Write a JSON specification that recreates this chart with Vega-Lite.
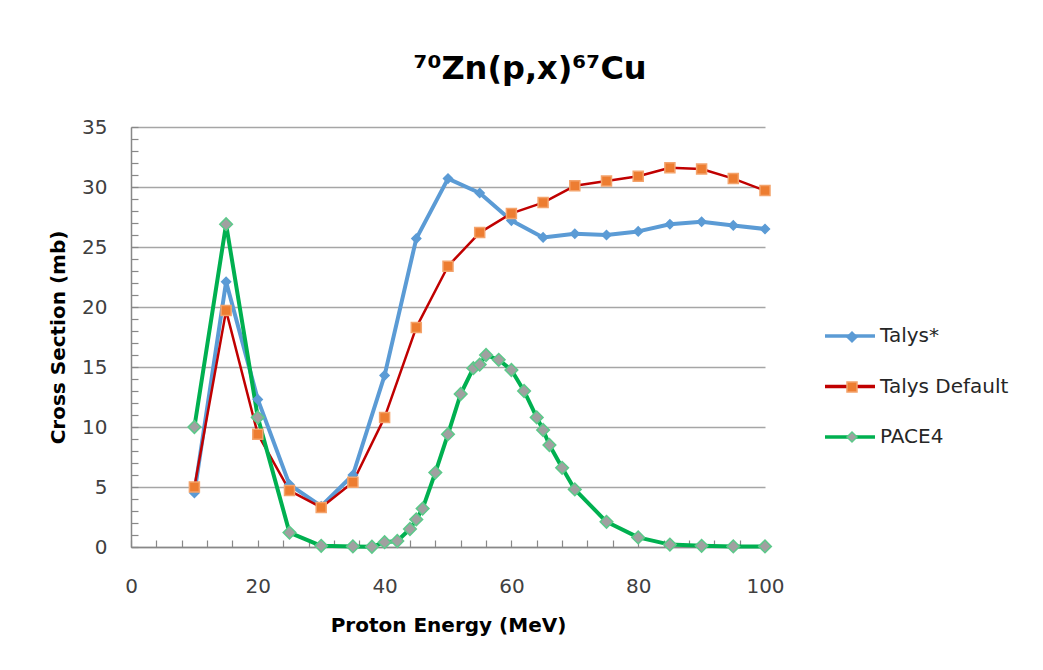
{
  "$schema": "https://vega.github.io/schema/vega-lite/v6.json",
  "width": 634,
  "height": 420,
  "padding": {"left": 48, "top": 53, "right": 5, "bottom": 5},
  "background": "white",
  "title": {
    "text": "⁷⁰Zn(p,x)⁶⁷Cu",
    "font": "DejaVu Sans",
    "fontSize": 32,
    "fontWeight": "bold",
    "color": "#000000",
    "anchor": "middle",
    "dx": 82,
    "offset": 31
  },
  "config": {
    "font": "DejaVu Sans",
    "view": {"stroke": null},
    "axis": {
      "labelFont": "DejaVu Sans",
      "labelFontSize": 20,
      "labelColor": "#404040",
      "titleFont": "DejaVu Sans",
      "titleFontSize": 20,
      "titleFontWeight": "bold",
      "titleColor": "#000000",
      "domainColor": "#888888",
      "domainWidth": 1.5,
      "tickColor": "#888888",
      "tickWidth": 1.2
    },
    "legend": {"labelFont": "DejaVu Sans", "labelFontSize": 20, "labelColor": "#262626"}
  },
  "data": {
    "values": [
      {"E": 10, "series": "Talys*", "v": 4.5},
      {"E": 15, "series": "Talys*", "v": 22.1},
      {"E": 20, "series": "Talys*", "v": 12.3},
      {"E": 25, "series": "Talys*", "v": 5.2},
      {"E": 30, "series": "Talys*", "v": 3.4},
      {"E": 35, "series": "Talys*", "v": 6.0},
      {"E": 40, "series": "Talys*", "v": 14.3},
      {"E": 45, "series": "Talys*", "v": 25.7},
      {"E": 50, "series": "Talys*", "v": 30.7},
      {"E": 55, "series": "Talys*", "v": 29.5},
      {"E": 60, "series": "Talys*", "v": 27.2},
      {"E": 65, "series": "Talys*", "v": 25.8},
      {"E": 70, "series": "Talys*", "v": 26.1},
      {"E": 75, "series": "Talys*", "v": 26.0},
      {"E": 80, "series": "Talys*", "v": 26.3},
      {"E": 85, "series": "Talys*", "v": 26.9},
      {"E": 90, "series": "Talys*", "v": 27.1},
      {"E": 95, "series": "Talys*", "v": 26.8},
      {"E": 100, "series": "Talys*", "v": 26.5},
      {"E": 10, "series": "Talys Default", "v": 5.0},
      {"E": 15, "series": "Talys Default", "v": 19.7},
      {"E": 20, "series": "Talys Default", "v": 9.4},
      {"E": 25, "series": "Talys Default", "v": 4.7},
      {"E": 30, "series": "Talys Default", "v": 3.3},
      {"E": 35, "series": "Talys Default", "v": 5.4},
      {"E": 40, "series": "Talys Default", "v": 10.8},
      {"E": 45, "series": "Talys Default", "v": 18.3},
      {"E": 50, "series": "Talys Default", "v": 23.4},
      {"E": 55, "series": "Talys Default", "v": 26.2},
      {"E": 60, "series": "Talys Default", "v": 27.8},
      {"E": 65, "series": "Talys Default", "v": 28.7},
      {"E": 70, "series": "Talys Default", "v": 30.1},
      {"E": 75, "series": "Talys Default", "v": 30.5},
      {"E": 80, "series": "Talys Default", "v": 30.9},
      {"E": 85, "series": "Talys Default", "v": 31.6},
      {"E": 90, "series": "Talys Default", "v": 31.5},
      {"E": 95, "series": "Talys Default", "v": 30.7},
      {"E": 100, "series": "Talys Default", "v": 29.7},
      {"E": 10, "series": "PACE4", "v": 10.0},
      {"E": 15, "series": "PACE4", "v": 26.9},
      {"E": 20, "series": "PACE4", "v": 10.8},
      {"E": 25, "series": "PACE4", "v": 1.2},
      {"E": 30, "series": "PACE4", "v": 0.1},
      {"E": 35, "series": "PACE4", "v": 0.05},
      {"E": 38, "series": "PACE4", "v": 0.02},
      {"E": 40, "series": "PACE4", "v": 0.4},
      {"E": 42, "series": "PACE4", "v": 0.5},
      {"E": 44, "series": "PACE4", "v": 1.5},
      {"E": 45, "series": "PACE4", "v": 2.3},
      {"E": 46, "series": "PACE4", "v": 3.2},
      {"E": 48, "series": "PACE4", "v": 6.2},
      {"E": 50, "series": "PACE4", "v": 9.4},
      {"E": 52, "series": "PACE4", "v": 12.75},
      {"E": 54, "series": "PACE4", "v": 14.9},
      {"E": 55, "series": "PACE4", "v": 15.2},
      {"E": 56, "series": "PACE4", "v": 16.0},
      {"E": 58, "series": "PACE4", "v": 15.6},
      {"E": 60, "series": "PACE4", "v": 14.75},
      {"E": 62, "series": "PACE4", "v": 13.0},
      {"E": 64, "series": "PACE4", "v": 10.8},
      {"E": 65, "series": "PACE4", "v": 9.75},
      {"E": 66, "series": "PACE4", "v": 8.5},
      {"E": 68, "series": "PACE4", "v": 6.6},
      {"E": 70, "series": "PACE4", "v": 4.8},
      {"E": 75, "series": "PACE4", "v": 2.1},
      {"E": 80, "series": "PACE4", "v": 0.8},
      {"E": 85, "series": "PACE4", "v": 0.2},
      {"E": 90, "series": "PACE4", "v": 0.1},
      {"E": 95, "series": "PACE4", "v": 0.05},
      {"E": 100, "series": "PACE4", "v": 0.05}
    ]
  },
  "encoding": {
    "x": {
      "field": "E",
      "type": "quantitative",
      "scale": {"domain": [0, 100], "nice": false, "zero": false},
      "axis": {
        "title": "Proton Energy (MeV)",
        "values": [0,4,8,12,16,20,24,28,32,36,40,44,48,52,56,60,64,68,72,76,80,84,88,92,96,100],
        "labelExpr": "datum.value % 20 === 0 ? datum.label : ''",
        "labelFlush": false,
        "grid": false,
        "tickSize": -7,
        "labelPadding": 36,
        "titlePadding": 19
      }
    },
    "y": {
      "field": "v",
      "type": "quantitative",
      "scale": {"domain": [0, 35], "nice": false},
      "axis": {
        "title": "Cross Section (mb)",
        "values": [0,1,2,3,4,5,6,7,8,9,10,11,12,13,14,15,16,17,18,19,20,21,22,23,24,25,26,27,28,29,30,31,32,33,34,35],
        "labelExpr": "datum.value % 5 === 0 ? datum.label : ''",
        "grid": true,
        "gridColor": "#A6A6A6",
        "gridWidth": 1.5,
        "gridOpacity": {"condition": {"test": "datum.value % 5 === 0", "value": 1}, "value": 0},
        "tickSize": -7,
        "labelPadding": 31,
        "titlePadding": 13
      }
    }
  },
  "layer": [
    {
      "mark": {"type": "line", "strokeJoin": "round"},
      "encoding": {
        "color": {
          "field": "series",
          "type": "nominal",
          "scale": {"domain": ["Talys*", "Talys Default", "PACE4"], "range": ["#5B9BD5", "#C00000", "#00B050"]},
          "legend": {
            "title": null,
            "orient": "none",
            "legendX": 692,
            "legendY": 182,
            "symbolType": "stroke",
            "symbolSize": 2500,
            "symbolStrokeWidth": 3.5,
            "rowPadding": 13.5,
            "labelOffset": 3
          }
        },
        "strokeWidth": {"condition": {"test": "datum.series === 'Talys Default'", "value": 2.5}, "value": 4}
      }
    },
    {
      "mark": {"type": "point", "filled": true, "opacity": 1, "strokeWidth": 1.5},
      "encoding": {
        "fill": {
          "field": "series",
          "type": "nominal",
          "sort": null,
          "scale": {"range": ["#5B9BD5", "#ED7D31", "#A0A0A0"]},
          "legend": {
            "title": null,
            "orient": "none",
            "legendX": 711,
            "legendY": 200,
            "rowPadding": 30,
            "labelExpr": "''",
            "encode": {
              "symbols": {
                "update": {
                  "size": {"signal": "datum.value === 'PACE4' ? 160 : datum.value === 'Talys Default' ? 100 : 80"}
                }
              }
            }
          }
        },
        "stroke": {
          "field": "series",
          "type": "nominal",
          "sort": null,
          "scale": {"range": ["#5B9BD5", "#F4A36B", "#5CC98A"]}
        },
        "shape": {
          "field": "series",
          "type": "nominal",
          "sort": null,
          "scale": {"range": ["diamond", "square", "diamond"]}
        },
        "size": {"condition": [{"test": "datum.series === 'PACE4'", "value": 160}, {"test": "datum.series === 'Talys Default'", "value": 100}], "value": 80}
      }
    }
  ]
}
